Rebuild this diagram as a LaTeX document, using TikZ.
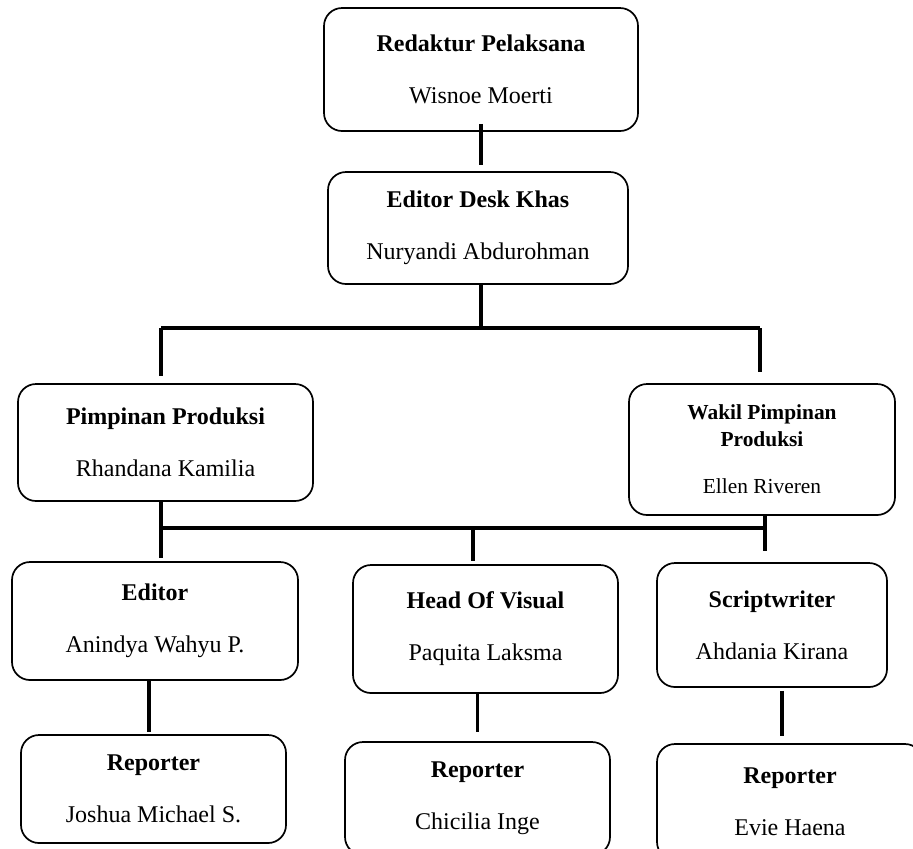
\documentclass[tikz,border=0pt]{standalone}
\usepackage{fontspec}
\setmainfont{Liberation Serif}

\begin{document}
\begin{tikzpicture}[x=0.5pt,y=-0.5pt,
		post/.style={rectangle,rounded corners=9pt,draw=black,line width=0.85pt,align=center,inner sep=0pt,font=\fontsize{12}{14}\selectfont},
		link/.style={line width=1.6pt}]
		\clip (0,0) rectangle (913,848);
		% boxes
		\node[post,minimum width=157pt,minimum height=61.5pt] (red) at (481,69.5) {\textbf{Redaktur Pelaksana}\\[12pt]Wisnoe Moerti};
		\node[post,minimum width=150pt,minimum height=56pt] (eds) at (478,228) {\textbf{Editor Desk Khas}\\[12pt]Nuryandi Abdurohman};
		\node[post,minimum width=147.5pt,minimum height=58.5pt] (pim) at (165.5,442.5) {\textbf{Pimpinan Produksi}\\[12pt]Rhandana Kamilia};
		\node[post,minimum width=133pt,minimum height=65.5pt,font=\fontsize{10.7}{13.5}\selectfont] (wak) at (762,449.5) {\textbf{Wakil Pimpinan}\\\textbf{Produksi}\\[10pt]Ellen Riveren};
		\node[post,minimum width=143pt,minimum height=59pt] (edi) at (155,621) {\textbf{Editor}\\[12pt]Anindya Wahyu P.};
		\node[post,minimum width=132.5pt,minimum height=64pt] (hov) at (485.5,629) {\textbf{Head Of Visual}\\[12pt]Paquita Laksma};
		\node[post,minimum width=115pt,minimum height=62pt] (scr) at (772,625) {\textbf{Scriptwriter}\\[12pt]Ahdania Kirana};
		\node[post,minimum width=132.5pt,minimum height=54pt] (rep1) at (153.5,789) {\textbf{Reporter}\\[12pt]Joshua Michael S.};
		\node[post,minimum width=132.5pt,minimum height=56.5pt] (rep2) at (477.5,798.5) {\textbf{Reporter}\\[12pt]Chicilia Inge};
		\node[post,minimum width=133pt,minimum height=58pt] (rep3) at (790,802) {\textbf{Reporter}\\[12pt]Evie Haena};
		
		% junctions
		\coordinate (topL) at (161,328);
		\coordinate (topM) at (481,328);
		\coordinate (topR) at (760,328);
		\coordinate (midL) at (161,528);
		\coordinate (midM) at (473,528);
		\coordinate (midR) at (765,528);
		
		\draw[link] ([yshift=4pt]red.south) -- ([xshift=1.5pt,yshift=3pt]eds.north);
		\draw[link] ([xshift=1.5pt]eds.south) -- (topM);
		\draw[link] (topL) -- (topR);
		\draw[link,shorten >=3.5pt] (topL) -- (topL |- pim.north);
		\draw[link,shorten >=5.5pt] (topR) -- (topR |- wak.north);
		\draw[link,shorten >=1.5pt] (midL |- pim.south) -- (midL |- edi.north);
		\draw[link] (midL) -- (midR);
		\draw[link,shorten >=1.5pt] (midM) -- (midM |- hov.north);
		\draw[link,shorten >=5.5pt] (midR |- wak.south) -- (midR |- scr.north);
		\draw[link] ([xshift=-3pt]edi.south) -- ([xshift=-2.25pt,yshift=1pt]rep1.north);
		\draw[link] ([xshift=-4pt]hov.south) -- ([yshift=4.5pt]rep2.north);
		\draw[link] ([xshift=5pt,yshift=-1.5pt]scr.south) -- ([xshift=-4pt,yshift=3.5pt]rep3.north);
\end{tikzpicture}
\end{document}
